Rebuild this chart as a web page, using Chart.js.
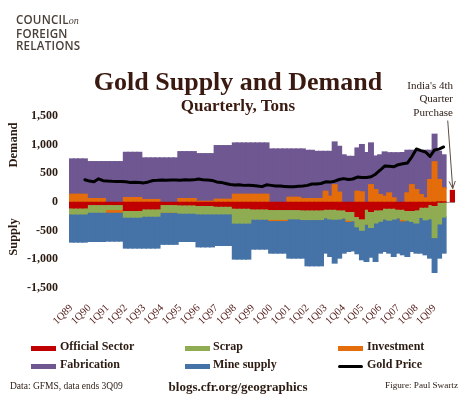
<!DOCTYPE html>
<html>
<head>
<meta charset="utf-8">
<script src="https://cdn.jsdelivr.net/npm/chart.js@4.4.0/dist/chart.umd.min.js"></script>
<style>
  body { margin: 0; background: #fff; }
  #wrap { position: relative; width: 470px; height: 400px; overflow: hidden; font-family: 'Liberation Serif', serif; color: #2b1b12; }
  #wrap canvas { position: absolute; left: 0; top: 0; }
  .t { position: absolute; white-space: nowrap; line-height: 1; }
  .logo { position: absolute; left: 16px; top: 14px; font-family: 'Open Sans', sans-serif; font-weight: 600; font-size: 11.6px; line-height: 12.5px; color: #4a4039; letter-spacing: 0.2px; }
  .logo i { font-family: 'Liberation Serif', serif; font-weight: normal; font-size: 10px; letter-spacing: 0; }
  .title { left: 0; width: 476px; text-align: center; font-weight: bold; color: #3a1a10; }
  .india { position: absolute; right: 17px; top: 79px; font-size: 11px; line-height: 13.3px; text-align: right; color: #2b1b12; }
  .ytitle { position: absolute; width: 60px; height: 14px; line-height: 14px; text-align: center; font-weight: bold; font-size: 12.5px; transform: rotate(-90deg); }
  .sw { position: absolute; width: 25px; height: 5px; }
  .lg { font-weight: bold; font-size: 12px; }
</style>
</head>
<body>
<div id="wrap">
  <canvas id="goldChart" width="470" height="400"></canvas>

  <div class="logo">COUNCIL<i>on</i><br>FOREIGN<br>RELATIONS</div>
  <div class="t title" style="top:69px;font-size:26px;">Gold Supply and Demand</div>
  <div class="t title" style="top:97px;font-size:17px;">Quarterly, Tons</div>
  <div class="india">India's 4th<br>Quarter<br>Purchase</div>

  <div class="ytitle" style="left:-17px;top:138px;">Demand</div>
  <div class="ytitle" style="left:-17px;top:230px;">Supply</div>

  <div class="sw" style="left:31px;top:346px;background:#c00000;"></div>
  <div class="t lg" style="left:60px;top:340px;">Official Sector</div>
  <div class="sw" style="left:185px;top:346px;background:#8fac53;"></div>
  <div class="t lg" style="left:213px;top:340px;">Scrap</div>
  <div class="sw" style="left:338px;top:346px;background:#e46c0a;"></div>
  <div class="t lg" style="left:367px;top:340px;">Investment</div>
  <div class="sw" style="left:31px;top:364px;background:#6f5791;"></div>
  <div class="t lg" style="left:60px;top:358px;">Fabrication</div>
  <div class="sw" style="left:185px;top:364px;background:#4572a7;"></div>
  <div class="t lg" style="left:213px;top:358px;">Mine supply</div>
  <div class="sw" style="left:338px;top:365px;height:3px;border-radius:2px;background:#000;"></div>
  <div class="t lg" style="left:367px;top:358px;">Gold Price</div>

  <div class="t" style="left:10px;top:382px;font-size:9.5px;">Data: GFMS, data ends 3Q09</div>
  <div class="t" style="left:0;width:476px;text-align:center;top:380px;font-size:13px;font-weight:bold;">blogs.cfr.org/geographics</div>
  <div class="t" style="right:12px;top:381px;font-size:9.2px;">Figure: Paul Swartz</div>
</div>

<script>
// quarters, 1Q89 .. 3Q09, then an empty 4Q09 slot and a slot for India's purchase
var quarterLabels = [
  '1Q89','2Q89','3Q89','4Q89',
  '1Q90','2Q90','3Q90','4Q90',
  '1Q91','2Q91','3Q91','4Q91',
  '1Q92','2Q92','3Q92','4Q92',
  '1Q93','2Q93','3Q93','4Q93',
  '1Q94','2Q94','3Q94','4Q94',
  '1Q95','2Q95','3Q95','4Q95',
  '1Q96','2Q96','3Q96','4Q96',
  '1Q97','2Q97','3Q97','4Q97',
  '1Q98','2Q98','3Q98','4Q98',
  '1Q99','2Q99','3Q99','4Q99',
  '1Q00','2Q00','3Q00','4Q00',
  '1Q01','2Q01','3Q01','4Q01',
  '1Q02','2Q02','3Q02','4Q02',
  '1Q03','2Q03','3Q03','4Q03',
  '1Q04','2Q04','3Q04','4Q04',
  '1Q05','2Q05','3Q05','4Q05',
  '1Q06','2Q06','3Q06','4Q06',
  '1Q07','2Q07','3Q07','4Q07',
  '1Q08','2Q08','3Q08','4Q08',
  '1Q09','2Q09','3Q09','4Q09',
  '1Q10'
];
var lastDataIndex = 82; // 3Q09

// official sector: sales are supply (negative), last value is India's purchase
var officialSector = [
  -100,-100,-100,-100,  -41,-41,-41,-41,  -41,-41,-41,-41,  -145,-145,-145,-145,
  -116,-116,-116,-116,  -41,-41,-41,-41,  -46,-46,-46,-46,  -58,-58,-58,-58,
  -70,-70,-70,-70,  -104,-104,-104,-104,  -116,-116,-116,-116,  -128,-128,-128,-128,
  -128,-128,-128,-133,  -133,-133,-133,-133,  -122,-122,-122,-133,  -133,-162,-162,-250,
  -290,-122,-162,-133,  -133,-104,-104,-104,  -122,-122,-145,-145,  -133,-87,-87,-40,
  -58,0,0,null,
  200
];
var scrap = [
  -105,-105,-105,-105,  -133,-133,-133,-133,  -87,-87,-87,-87,  -116,-116,-116,-116,
  -128,-128,-128,-128,  -133,-133,-133,-133,  -145,-145,-145,-145,  -145,-145,-145,-145,
  -133,-133,-133,-133,  -260,-260,-260,-260,  -180,-180,-180,-180,  -172,-172,-172,-172,
  -162,-162,-162,-170,  -170,-170,-170,-170,  -150,-170,-175,-160,  -140,-150,-160,-180,
  -200,-260,-280,-230,  -200,-190,-210,-190,  -150,-180,-170,-190,  -230,-180,-220,-250,
  -560,-380,-260,null,
  null
];
var investment = [
  133,133,133,133,  58,58,58,58,  -46,-46,-46,-46,  75,75,75,75,
  41,41,41,41,  0,0,0,0,  58,58,58,58,  10,10,10,10,
  46,46,46,46,  133,133,133,133,  133,133,133,133,  -20,-20,-20,-20,
  80,80,80,55,  58,58,58,58,  186,99,300,170,  0,-25,0,186,
  174,0,300,215,  128,99,157,70,  0,-25,157,300,  215,128,70,390,
  700,390,245,null,
  null
];
var fabrication = [
  616,616,616,616,  644,644,644,644,  702,702,702,702,  789,789,789,789,
  726,726,726,726,  767,767,767,767,  818,818,818,818,  831,831,831,831,
  935,935,935,935,  895,895,895,895,  895,895,895,895,  923,923,923,923,
  843,843,843,868,  841,841,823,823,  695,782,745,799,  820,794,794,754,
  826,860,728,585,  692,772,700,787,  857,860,743,600,  666,753,830,510,
  480,491,575,null,
  null
];
var mineSupply = [
  -492,-492,-492,-492,  -512,-512,-512,-512,  -506,-506,-506,-506,  -540,-540,-540,-540,
  -557,-557,-557,-557,  -561,-561,-561,-561,  -495,-495,-495,-495,  -577,-577,-577,-577,
  -552,-552,-552,-552,  -629,-629,-629,-629,  -523,-523,-523,-523,  -569,-569,-569,-569,
  -686,-686,-686,-673,  -807,-807,-807,-807,  -617,-655,-766,-683,  -616,-523,-528,-470,
  -515,-652,-518,-671,  -556,-566,-575,-653,  -617,-591,-632,-525,  -526,-622,-611,-686,
  -608,-596,-629,null,
  null
];
// gold price, $/oz, drawn on the same axis
var goldPrice = [
  null,null,null,388,  365,355,405,372,  365,360,358,358,  352,342,343,338,
  333,350,375,378,  385,380,385,383,  380,386,384,386,  400,390,385,376,
  350,342,324,306,  295,300,290,294,  287,279,268,300,  290,280,277,270,
  264,268,274,279,  290,313,314,323,  352,347,363,392,  408,393,401,434,
  427,427,440,485,  554,627,622,614,  650,667,680,788,  925,896,872,795,
  908,922,960,null,
  null
];

var textColor = '#2b1b12';
Chart.defaults.font.family = "'Liberation Serif', serif";

// arrow from the "India's 4th Quarter Purchase" note down to its bar
var indiaArrow = {
    id: 'indiaArrow',
    afterDatasetsDraw: function(chart) {
        var idx = chart.data.datasets.findIndex(function(d) { return d.label == 'Official Sector'; });
        var bar = chart.getDatasetMeta(idx).data[quarterLabels.length - 1];
        if (!bar) {
            return;
        }
        var ctx = chart.ctx;
        var tipX = bar.x, tipY = bar.y - 2;
        var startX = bar.x - 5, startY = bar.y - 70;
        var ang = Math.atan2(tipY - startY, tipX - startX);
        ctx.save();
        ctx.strokeStyle = '#5e4c44';
        ctx.lineWidth = 1;
        ctx.beginPath();
        ctx.moveTo(startX, startY);
        ctx.lineTo(tipX, tipY);
        ctx.moveTo(tipX - 8 * Math.cos(ang - 0.4), tipY - 8 * Math.sin(ang - 0.4));
        ctx.lineTo(tipX, tipY);
        ctx.lineTo(tipX - 8 * Math.cos(ang + 0.4), tipY - 8 * Math.sin(ang + 0.4));
        ctx.stroke();
        ctx.restore();
    }
};

function barSet(label, data, color) {
    return {
        type: 'bar',
        label: label,
        data: data,
        backgroundColor: color,
        borderWidth: 0,
        barPercentage: 1,
        categoryPercentage: 1,
        inflateAmount: 0.7,
        stack: 'flows'
    };
}

var ctx = document.getElementById('goldChart');
var goldChart = new Chart(ctx, {
    data: {
        labels: quarterLabels,
        datasets: [
            {
                type: 'line',
                label: 'Gold Price',
                data: goldPrice,
                borderColor: '#000',
                borderWidth: 3,
                pointRadius: 0,
                tension: 0,
                borderJoinStyle: 'round',
                borderCapStyle: 'round',
                stack: 'price'
            },
            barSet('Official Sector', officialSector, '#c00000'),
            barSet('Scrap', scrap, '#8fac53'),
            barSet('Investment', investment, '#e46c0a'),
            barSet('Fabrication', fabrication, '#6f5791'),
            barSet('Mine supply', mineSupply, '#4572a7')
        ]
    },
    options: {
        responsive: false,
        animation: false,
        layout: { padding: { top: 116, right: 15, bottom: 0, left: 0 } },
        plugins: {
            legend: { display: false },
            tooltip: { enabled: false }
        },
        scales: {
            x: {
                stacked: true,
                grid: { display: false },
                border: { display: false },
                ticks: {
                    autoSkip: false,
                    maxRotation: 45,
                    minRotation: 45,
                    padding: 6,
                    color: '#4d1512',
                    font: { size: 10.5 },
                    callback: function(value, index) {
                        var lab = quarterLabels[index];
                        return (index <= lastDataIndex && lab.indexOf('1Q') == 0) ? lab : '';
                    }
                },
                afterFit: function(scale) { scale.height = 112; }
            },
            y: {
                stacked: true,
                min: -1500,
                max: 1500,
                border: { display: false },
                grid: {
                    drawTicks: false,
                    color: function(c) { return c.tick.value == 0 ? '#a8a0a0' : 'rgba(0,0,0,0)'; }
                },
                ticks: {
                    stepSize: 500,
                    padding: 11,
                    color: textColor,
                    font: { size: 12, weight: 'bold' },
                    callback: function(v) { return v.toLocaleString('en-US'); }
                },
                afterFit: function(scale) { scale.width = 69; }
            }
        }
    },
    plugins: [indiaArrow]
});
</script>
</body>
</html>
